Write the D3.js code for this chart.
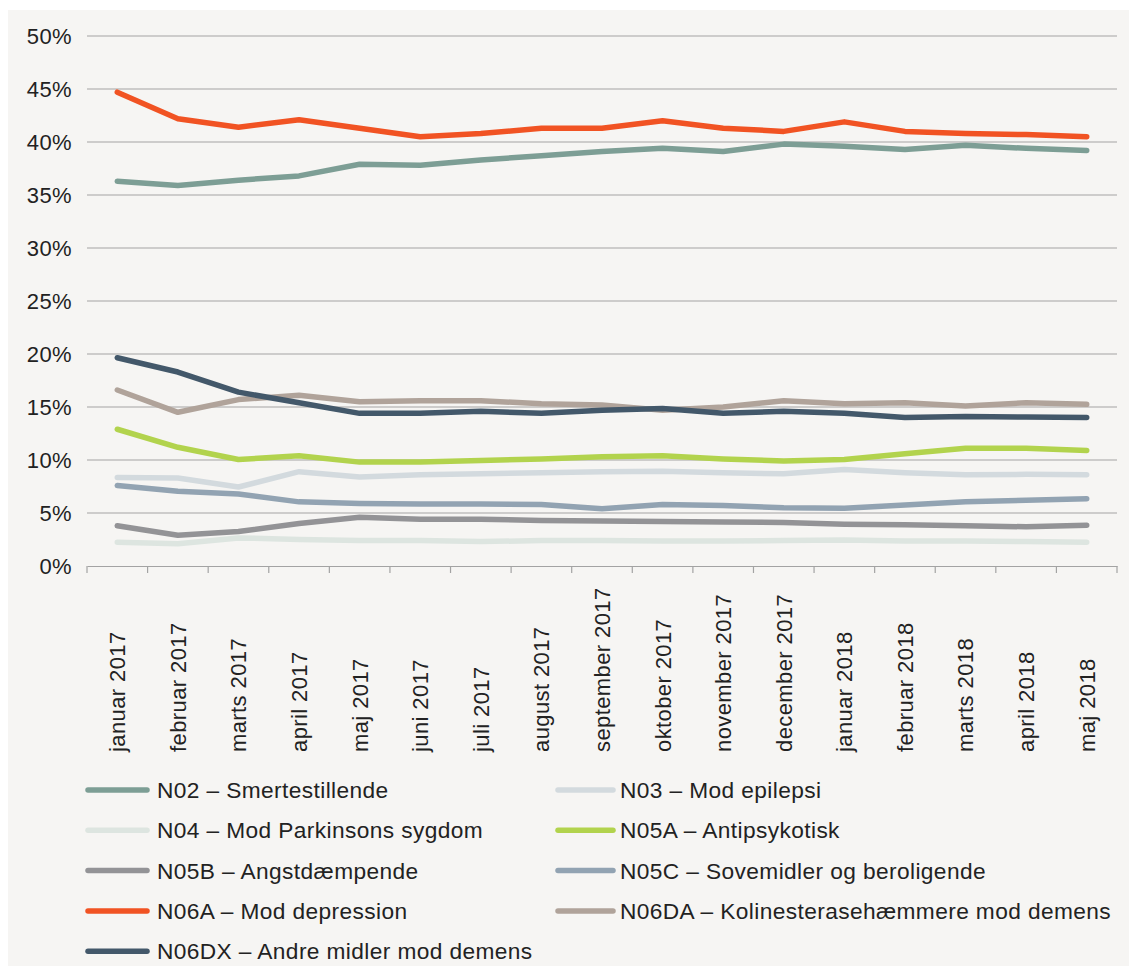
<!DOCTYPE html>
<html><head><meta charset="utf-8">
<script src="https://cdn.jsdelivr.net/npm/d3@7"></script>
<style>
html,body{margin:0;padding:0;background:#fff;}
text{font-family:"Liberation Sans",Arial,sans-serif;fill:#222;letter-spacing:0.4px;}
</style></head>
<body>
<svg id="c" width="1129" height="966"></svg>
<script>
const months = ["januar 2017","februar 2017","marts 2017","april 2017","maj 2017","juni 2017","juli 2017","august 2017","september 2017","oktober 2017","november 2017","december 2017","januar 2018","februar 2018","marts 2018","april 2018","maj 2018"];
const yTicks = [0,5,10,15,20,25,30,35,40,45,50];
const seriesNames = ["N02 – Smertestillende","N03 – Mod epilepsi","N04 – Mod Parkinsons sygdom","N05A – Antipsykotisk","N05B – Angstdæmpende","N05C – Sovemidler og beroligende","N06A – Mod depression","N06DA – Kolinesterasehæmmere mod demens","N06DX – Andre midler mod demens"];
const N02  = [36.3,35.9,36.4,36.8,37.9,37.8,38.3,38.7,39.1,39.4,39.1,39.8,39.6,39.3,39.7,39.4,39.2];
const N03  = [8.35,8.3,7.45,8.9,8.4,8.6,8.7,8.8,8.9,8.95,8.8,8.7,9.1,8.8,8.6,8.65,8.6];
const N04  = [2.25,2.1,2.65,2.5,2.4,2.4,2.3,2.4,2.4,2.35,2.35,2.4,2.45,2.35,2.35,2.3,2.25];
const N05A = [12.9,11.2,10.05,10.4,9.8,9.8,9.95,10.1,10.3,10.4,10.1,9.9,10.05,10.6,11.1,11.1,10.9];
const N05B = [3.8,2.9,3.25,4.0,4.6,4.4,4.4,4.3,4.25,4.2,4.15,4.1,3.95,3.9,3.8,3.7,3.85];
const N05C = [7.6,7.05,6.8,6.05,5.9,5.85,5.85,5.8,5.4,5.8,5.7,5.5,5.45,5.75,6.05,6.2,6.35];
const N06A = [44.7,42.2,41.4,42.1,41.3,40.5,40.8,41.3,41.3,42.0,41.3,41.0,41.9,41.0,40.8,40.7,40.5];
const N06DA= [16.6,14.5,15.7,16.1,15.5,15.6,15.6,15.3,15.2,14.7,15.0,15.6,15.3,15.4,15.1,15.4,15.25];
const N06DX= [19.65,18.3,16.4,15.4,14.4,14.4,14.6,14.4,14.7,14.85,14.4,14.6,14.4,14.0,14.1,14.05,14.0];
const colors = ["#7d9e95","#d3dade","#dde5e0","#b2d34d","#939396","#92a3b2","#f15323","#b0a39a","#43586a"];

const allValues = [N02,N03,N04,N05A,N05B,N05C,N06A,N06DA,N06DX];
const series = seriesNames.map((n,i)=>({name:n, values:allValues[i], color:colors[i]}));

const svg = d3.select("#c");
svg.append("rect").attr("x",8).attr("y",10).attr("width",1121).attr("height",956).attr("fill","#f6f5f3");

const x = d3.scaleBand().domain(months).range([87,1117]);
const y = d3.scaleLinear().domain([0,50]).range([566,36]);

svg.append("g").selectAll("line").data(yTicks.filter(d=>d>0)).join("line")
  .attr("x1",87).attr("x2",1117).attr("y1",d=>y(d)).attr("y2",d=>y(d))
  .attr("stroke","#a3a3a3").attr("stroke-width",1.2);

const yAxis = svg.append("g").attr("transform","translate(72,0)")
  .call(d3.axisLeft(y).tickValues(yTicks).tickFormat(d=>d+"%").tickSize(0).tickPadding(0));
yAxis.select(".domain").remove();
yAxis.selectAll("text").attr("font-size",22).attr("font-family","Liberation Sans, Arial, sans-serif").attr("fill","#222").attr("dy","0.36em");

const xAxisG = svg.append("g").attr("transform","translate(0,566)")
  .call(d3.axisBottom(x).tickSize(0).tickFormat(""));
xAxisG.select(".domain").attr("stroke","#a3a3a3").attr("stroke-width",1.2);
xAxisG.selectAll(".tick").remove();
const bounds = d3.range(months.length+1).map(i=>87 + i*x.step());
xAxisG.selectAll("line.bt").data(bounds).join("line").attr("class","bt")
  .attr("x1",d=>d).attr("x2",d=>d).attr("y1",0).attr("y2",7)
  .attr("stroke","#a3a3a3").attr("stroke-width",1.2);

svg.append("g").selectAll("text").data(months).join("text")
  .attr("transform",d=>`translate(${x(d)+x.bandwidth()/2},752) rotate(-90)`)
  .attr("text-anchor","start").attr("dy","0.36em").attr("font-size",22)
  .text(d=>d);

const line = d3.line().x((d,i)=>x(months[i])+x.bandwidth()/2).y(d=>y(d));
svg.append("g").selectAll("path").data(series).join("path")
  .attr("d",d=>line(d.values)).attr("fill","none").attr("stroke",d=>d.color)
  .attr("stroke-width",5.5).attr("stroke-linecap","round").attr("stroke-linejoin","round");

const leg = svg.append("g");
series.forEach((s,i)=>{
  const col = i%2, row = Math.floor(i/2);
  const cy = 790 + row*40.3;
  const sx = col===0 ? 88 : 558;
  const sw = col===0 ? 59 : 55;
  const tx = col===0 ? 157 : 620;
  leg.append("line").attr("x1",sx).attr("x2",sx+sw).attr("y1",cy).attr("y2",cy)
    .attr("stroke",s.color).attr("stroke-width",5.5).attr("stroke-linecap","round");
  leg.append("text").attr("x",tx).attr("y",cy).attr("dy","0.36em").attr("font-size",22.7).text(s.name);
});
</script>
</body></html>
